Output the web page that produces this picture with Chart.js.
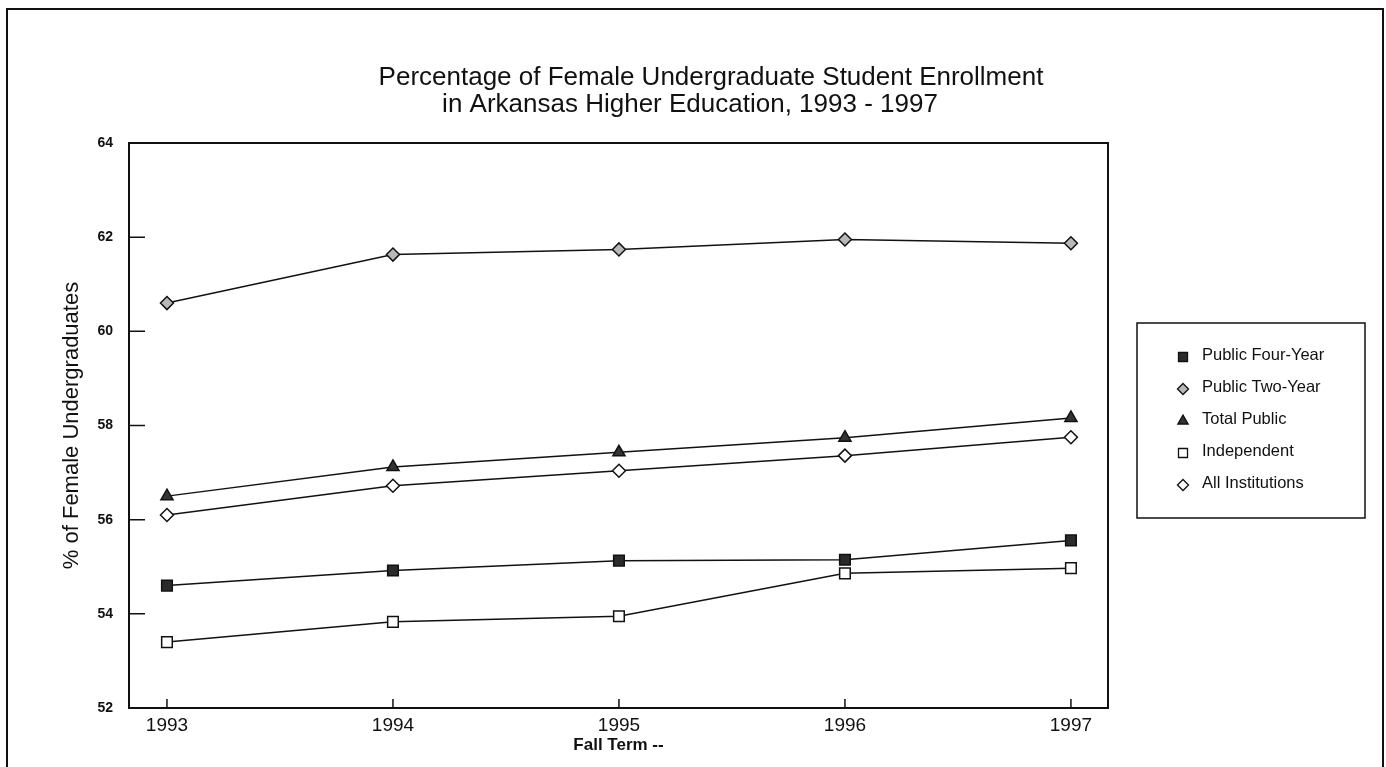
<!DOCTYPE html>
<html>
<head>
<meta charset="utf-8">
<script src="https://cdn.jsdelivr.net/npm/chart.js@4.4.1/dist/chart.umd.min.js"></script>
<style>
  html, body { margin: 0; padding: 0; background: #fff; }
  #wrap { width: 1386px; height: 767px; }
</style>
</head>
<body>
<div id="wrap"><canvas id="enrollChart"></canvas></div>
<script>
const years = [1993, 1994, 1995, 1996, 1997];
const publicFourYear = [54.6, 54.92, 55.13, 55.15, 55.56];
const publicTwoYear = [60.6, 61.63, 61.74, 61.95, 61.87];
const totalPublic = [56.5, 57.12, 57.43, 57.74, 58.16];
const independent = [53.4, 53.83, 53.95, 54.86, 54.97];
const allInstitutions = [56.1, 56.72, 57.04, 57.36, 57.75];
const yTicks = [52, 54, 56, 58, 60, 62, 64];

const titleLines = [
  "Percentage of Female Undergraduate Student Enrollment",
  "in Arkansas Higher Education, 1993 - 1997",
];

const FONT = "'Liberation Sans', Arial, sans-serif";

function pts(vals) {
  return years.map((yr, i) => ({ x: yr, y: vals[i] }));
}

function series(label, vals, style, fill, radius) {
  return {
    label: label,
    data: pts(vals),
    borderColor: "#111",
    borderWidth: 1.5,
    pointStyle: style,
    pointRadius: radius,
    pointBackgroundColor: fill,
    pointBorderColor: "#111",
    pointBorderWidth: 1.5,
    tension: 0,
  };
}

const datasets = [
  series("Public Four-Year", publicFourYear, "rect", "#2b2b2b", 7.5),
  series("Public Two-Year", publicTwoYear, "rectRot", "#b8b8b8", 6.5),
  series("Total Public", totalPublic, "triangle", "#333", 7),
  series("Independent", independent, "rect", "#fff", 7.5),
  series("All Institutions", allInstitutions, "rectRot", "#fff", 6.5),
];

// frame, plot box, inward ticks, title and boxed legend
const decor = {
  id: "decor",
  afterDraw(chart) {
    const ctx = chart.ctx;
    const a = chart.chartArea;
    const xs = chart.scales.x, ys = chart.scales.y;
    ctx.save();
    ctx.strokeStyle = "#111";
    ctx.lineWidth = 2;
    ctx.strokeRect(7, 9, 1376, 770);
    ctx.strokeRect(a.left, a.top, a.right - a.left, a.bottom - a.top);

    ctx.lineWidth = 1.5;
    ctx.beginPath();
    yTicks.slice(1, -1).forEach(v => {
      const y = ys.getPixelForValue(v);
      ctx.moveTo(a.left, y);
      ctx.lineTo(a.left + 16, y);
    });
    years.forEach(v => {
      const x = xs.getPixelForValue(v);
      ctx.moveTo(x, a.bottom);
      ctx.lineTo(x, a.bottom - 9);
    });
    ctx.stroke();

    ctx.fillStyle = "#111";
    ctx.textAlign = "center";
    ctx.textBaseline = "middle";
    ctx.font = "26px " + FONT;
    ctx.fillText(titleLines[0], 711, 78);
    ctx.fillText(titleLines[1], 690, 105);

    // legend
    ctx.lineWidth = 1.5;
    ctx.strokeRect(1137, 323, 228, 195);
    ctx.font = "16.5px " + FONT;
    ctx.textAlign = "left";
    chart.data.datasets.forEach((ds, i) => {
      const y = 355 + i * 32;
      ctx.fillStyle = ds.pointBackgroundColor;
      ctx.strokeStyle = "#111";
      ctx.lineWidth = 1.3;
      Chart.helpers.drawPoint(ctx, {
        pointStyle: ds.pointStyle,
        radius: ds.pointRadius * 0.85,
        rotation: 0,
        borderWidth: 1.3,
      }, 1183, y + 2);
      ctx.fillStyle = "#111";
      ctx.fillText(ds.label, 1202, y);
    });
    ctx.restore();
  },
};

new Chart(document.getElementById("enrollChart"), {
  type: "line",
  data: { datasets: datasets },
  options: {
    responsive: true,
    maintainAspectRatio: false,
    animation: false,
    layout: { padding: { top: 143, right: 278, left: 0, bottom: 0 } },
    plugins: {
      legend: { display: false },
      title: { display: false },
      tooltip: { enabled: false },
    },
    scales: {
      x: {
        type: "linear",
        min: 1992.832,
        max: 1997.164,
        afterBuildTicks(scale) {
          scale.ticks = years.map(v => ({ value: v }));
        },
        afterFit(scale) { scale.height = 59; },
        grid: { display: false, drawTicks: false },
        border: { display: false },
        ticks: {
          padding: 6,
          color: "#111",
          font: { family: FONT, size: 19 },
          callback: v => String(v),
        },
        title: {
          display: true,
          text: "Fall Term --",
          color: "#111",
          font: { family: FONT, size: 17, weight: "bold" },
          padding: { top: 0, bottom: 11 },
        },
      },
      y: {
        min: 52,
        max: 64,
        afterBuildTicks(scale) {
          scale.ticks = yTicks.map(v => ({ value: v }));
        },
        afterFit(scale) { scale.width = 129; },
        grid: { display: false, drawTicks: false },
        border: { display: false },
        ticks: {
          padding: 16,
          color: "#111",
          font: { family: FONT, size: 14, weight: "bold" },
        },
        title: {
          display: true,
          text: "% of Female Undergraduates",
          color: "#111",
          font: { family: FONT, size: 22 },
          padding: { top: 59, bottom: 0 },
        },
      },
    },
  },
  plugins: [decor],
});
</script>
</body>
</html>
